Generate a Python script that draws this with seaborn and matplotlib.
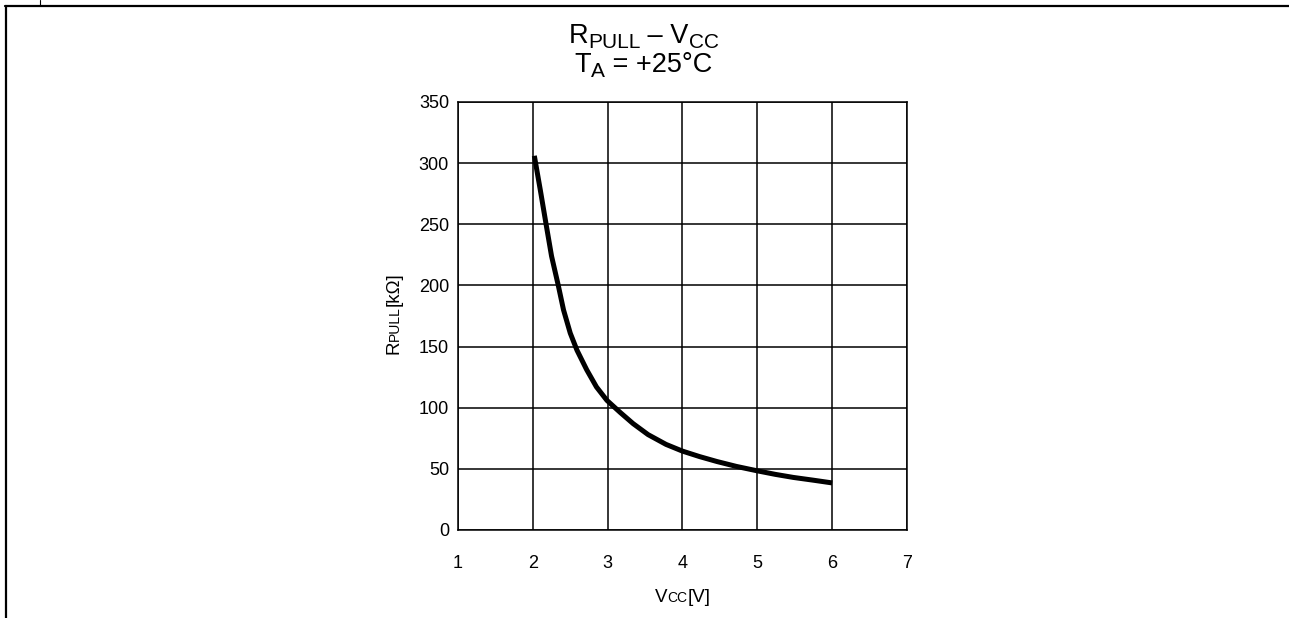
import matplotlib
matplotlib.use("Agg")
import matplotlib.pyplot as plt
from matplotlib.lines import Line2D
import seaborn as sns
import pandas as pd

# Data
vcc = [2.02, 2.10, 2.18, 2.25, 2.34, 2.41, 2.50, 2.59, 2.72, 2.85, 2.99, 3.17,
       3.34, 3.54, 3.78, 4.0, 4.23, 4.46, 4.72, 4.99, 5.24, 5.48, 5.74, 6.0]
r_pull = [306, 278, 249, 224, 200, 180, 161, 147, 131, 117, 106, 96,
          87, 78, 70, 64.5, 60, 56, 52, 48.5, 45.5, 43, 40.8, 38.5]
x_ticks = [1, 2, 3, 4, 5, 6, 7]
y_ticks = [0, 50, 100, 150, 200, 250, 300, 350]

sns.set_theme(style="white")
plt.rcParams["font.family"] = ["Liberation Sans", "DejaVu Sans"]

W, H = 1289, 618
fig = plt.figure(figsize=(W / 100, H / 100), dpi=100)
fig.patch.set_facecolor("white")

ax = fig.add_axes([458 / W, (H - 530) / H, 449 / W, 428 / H])
df = pd.DataFrame({"Vcc": vcc, "R": r_pull})
sns.lineplot(data=df, x="Vcc", y="R", ax=ax, color="black", linewidth=3.6, sort=False,
             solid_joinstyle="round", solid_capstyle="butt")

ax.set_xlim(1, 7)
ax.set_ylim(0, 350)
ax.set_xticks(x_ticks)
ax.set_yticks(y_ticks)
ax.grid(True, color="black", linewidth=1.1)
for s in ax.spines.values():
    s.set_color("black")
    s.set_linewidth(1.1)
ax.tick_params(axis="x", length=0, pad=18, labelsize=13, colors="black")
ax.tick_params(axis="y", length=0, pad=6.5, labelsize=13, colors="black")
ax.set_xlabel("")
ax.set_ylabel("")

fig.canvas.draw()
renderer = fig.canvas.get_renderer()


def place(pieces, x_px, y_px, rotation=0, center=True):
    """pieces: list of (text, fontsize, baseline_drop_px). (x_px, y_px): anchor in
    pixels from top-left; for rotation 0, x is centre, y is baseline.
    For rotation 90, x is baseline, y is centre."""
    widths = []
    for txt, size, drop in pieces:
        t = fig.text(0, 0, txt, fontsize=size, ha="left", va="baseline",
                     rotation=rotation, rotation_mode="anchor")
        bb = t.get_window_extent(renderer)
        widths.append(bb.width if rotation == 0 else bb.height)
        t.remove()
    total = sum(widths)
    pos = -total / 2 if center else 0.0
    for (txt, size, drop), w in zip(pieces, widths):
        if rotation == 0:
            fx = (x_px + pos) / W
            fy = (H - (y_px + drop)) / H
        else:
            fx = (x_px + drop) / W
            fy = (H - y_px + pos) / H
        fig.text(fx, fy, txt, fontsize=size, ha="left", va="baseline", color="black",
                 rotation=rotation, rotation_mode="anchor")
        pos += w


# Title (two lines, with subscripts)
place([("R", 19.5, 0), ("PULL", 15, 5), (" – V", 19.5, 0), ("CC", 15, 5)], W / 2 - 1, 43)
place([("T", 19.5, 0), ("A", 15, 5), (" = +25°C", 19.5, 0)], W / 2 - 1, 72)

# Axis labels with small-caps segments
place([("V", 13.5, 0), ("CC", 10, 0), ("[V]", 13.5, 0)], (458 + 907) / 2, 602)
place([("R", 13.5, 0), ("PULL", 10, 0), ("[kΩ]", 13.5, 0)], 399, 313, rotation=90)

# Frame decoration
fig.add_artist(Line2D([6 / W, 6 / W], [0, 1 - 6 / H], transform=fig.transFigure, color="black", linewidth=1.6))
fig.add_artist(Line2D([5 / W, 1], [1 - 6 / H, 1 - 6 / H], transform=fig.transFigure, color="black", linewidth=1.6))
fig.add_artist(Line2D([40 / W, 40 / W], [1 - 5 / H, 1], transform=fig.transFigure, color="black", linewidth=0.8))

fig.savefig("out.png", dpi=100, facecolor="white")
